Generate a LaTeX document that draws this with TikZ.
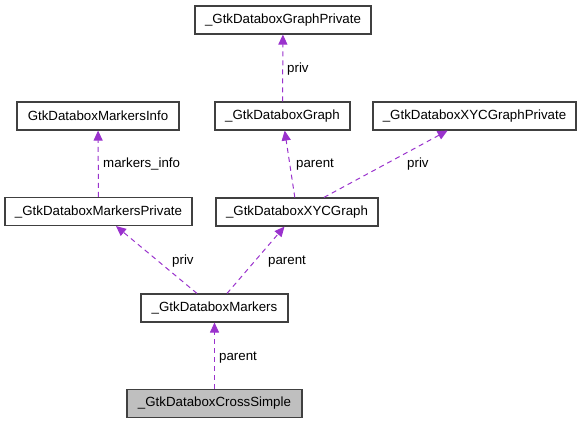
\documentclass[tikz,border=0pt]{standalone}
\usepackage{fontspec}
\setmainfont{Liberation Sans}
\usetikzlibrary{arrows.meta}
\definecolor{orquidea}{HTML}{9A32CD}
\begin{document}
\begin{tikzpicture}[x=1pt, y=-1pt, %Escala em pixels
	caixa/.style={draw=black!75, line width=1.1pt, minimum height=28pt, inner sep=0pt, font=\fontsize{13.3}{16}\selectfont},
	uso/.style={draw=orquidea, line width=1pt, dash pattern=on 5pt off 4pt, -{Triangle[length=10pt,width=9pt,fill=orquidea]}},
	rotulo/.style={anchor=base west, inner sep=0pt, font=\fontsize{13.3}{16}\selectfont}]
	\useasboundingbox (0,0) rectangle (581,424);
		%Caixas
	\node[caixa, minimum width=176pt] (gpriv) at (283,20) {\_GtkDataboxGraphPrivate};
	\node[caixa, minimum width=162pt] (minfo) at (98,116) {GtkDataboxMarkersInfo};
	\node[caixa, minimum width=135pt] (graph) at (282.5,116) {\_GtkDataboxGraph};
	\node[caixa, minimum width=203pt] (xycpriv) at (474.5,116) {\_GtkDataboxXYCGraphPrivate};
	\node[caixa, minimum width=187pt] (mpriv) at (98.5,211.5) {\_GtkDataboxMarkersPrivate};
	\node[caixa, minimum width=162pt] (xyc) at (297,212) {\_GtkDataboxXYCGraph};
	\node[caixa, minimum width=147pt] (markers) at (214.5,308) {\_GtkDataboxMarkers};
	\node[caixa, minimum width=175pt, fill=black!25] (cross) at (214.5,403.5) {\_GtkDataboxCrossSimple};
		%Setas
	\draw[uso] (graph) -- (gpriv);
	\draw[uso] (mpriv) -- (minfo);
	\draw[uso] (xyc) -- (graph);
	\draw[uso] (xyc) -- (xycpriv);
	\draw[uso] (markers) -- (mpriv);
	\draw[uso] (markers) -- (xyc);
	\draw[uso] (cross) -- (markers);
		%Rotulos
	\node[rotulo] (l1) at (287,72) {priv};
	\node[rotulo] (l2) at (103,167) {markers\_info};
	\node[rotulo] (l3) at (296,167) {parent};
	\node[rotulo] (l4) at (407,167) {priv};
	\node[rotulo] (l5) at (172,264) {priv};
	\node[rotulo] (l6) at (268,264) {parent};
	\node[rotulo] (l7) at (219,360) {parent};
\end{tikzpicture}
\end{document}
